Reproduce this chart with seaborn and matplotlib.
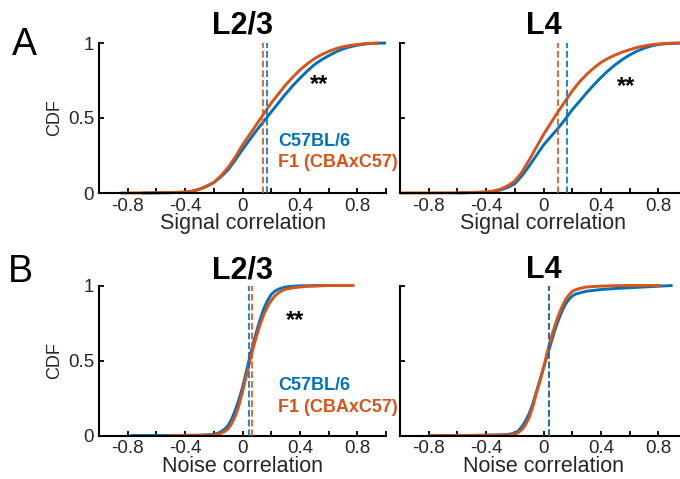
import numpy as np
import pandas as pd
import matplotlib
matplotlib.use("Agg")
import matplotlib.pyplot as plt
import seaborn as sns

# ---------------- data ----------------
strains = ["C57BL/6", "F1 (CBAxC57)"]
palette = {"C57BL/6": "#0072BD", "F1 (CBAxC57)": "#D95319"}

# Signal correlation, L2/3
sig23_c57_x = [-0.70, -0.5, -0.4, -0.35, -0.3, -0.25, -0.2, -0.15, -0.1, -0.05, 0.0, 0.05, 0.1, 0.15, 0.2, 0.25,
               0.3, 0.35, 0.4, 0.45, 0.5, 0.55, 0.6, 0.65, 0.7, 0.75, 0.8, 0.85, 0.9, 0.95, 1.0]
sig23_c57_y = [0.0, 0.002, 0.006, 0.012, 0.025, 0.045, 0.07, 0.108, 0.155, 0.22, 0.29, 0.355, 0.42, 0.48, 0.54, 0.60,
               0.66, 0.715, 0.765, 0.812, 0.855, 0.888, 0.915, 0.94, 0.96, 0.975, 0.985, 0.993, 0.997, 0.999, 1.0]
sig23_f1_x = [-0.85, -0.6, -0.4, -0.35, -0.3, -0.25, -0.2, -0.15, -0.1, -0.05, 0.0, 0.05, 0.1, 0.15, 0.2, 0.25,
              0.3, 0.35, 0.4, 0.45, 0.5, 0.55, 0.6, 0.65, 0.7, 0.75, 0.8, 0.85, 0.9, 0.95]
sig23_f1_y = [0.0, 0.001, 0.006, 0.012, 0.025, 0.045, 0.07, 0.115, 0.17, 0.24, 0.32, 0.39, 0.46, 0.53, 0.60, 0.66,
              0.72, 0.772, 0.82, 0.86, 0.895, 0.922, 0.944, 0.962, 0.975, 0.984, 0.99, 0.995, 0.998, 1.0]

# Signal correlation, L4
sig4_c57_x = [-0.6, -0.4, -0.35, -0.3, -0.25, -0.2, -0.15, -0.1, -0.05, 0.0, 0.05, 0.1, 0.15, 0.2, 0.25, 0.3,
              0.35, 0.4, 0.45, 0.5, 0.55, 0.6, 0.65, 0.7, 0.75, 0.8, 0.85, 0.9, 1.0]
sig4_c57_y = [0.0, 0.006, 0.011, 0.02, 0.037, 0.062, 0.115, 0.18, 0.25, 0.32, 0.375, 0.43, 0.49, 0.555, 0.61, 0.667,
              0.72, 0.77, 0.815, 0.855, 0.89, 0.92, 0.945, 0.965, 0.98, 0.99, 0.995, 0.998, 1.0]
sig4_f1_x = [-1.0, -0.6, -0.4, -0.35, -0.3, -0.25, -0.2, -0.15, -0.1, -0.05, 0.0, 0.05, 0.1, 0.15, 0.2, 0.25,
             0.3, 0.35, 0.4, 0.45, 0.5, 0.55, 0.6, 0.65, 0.7, 0.75, 0.8, 0.85, 0.9, 1.0]
sig4_f1_y = [0.0, 0.001, 0.006, 0.013, 0.025, 0.048, 0.08, 0.14, 0.22, 0.305, 0.39, 0.465, 0.54, 0.61, 0.68, 0.74,
             0.79, 0.833, 0.87, 0.898, 0.92, 0.94, 0.955, 0.97, 0.98, 0.988, 0.993, 0.997, 0.999, 1.0]

# Noise correlation, L2/3
noi23_c57_x = [-0.78, -0.5, -0.3, -0.2, -0.175, -0.15, -0.125, -0.1, -0.075, -0.05, -0.025, 0.0, 0.025, 0.05,
               0.075, 0.1, 0.125, 0.15, 0.175, 0.2, 0.225, 0.25, 0.275, 0.3, 0.35, 0.4, 0.6]
noi23_c57_y = [0.0, 0.0, 0.002, 0.007, 0.014, 0.025, 0.042, 0.067, 0.11, 0.17, 0.24, 0.32, 0.42, 0.52,
               0.615, 0.70, 0.78, 0.85, 0.90, 0.94, 0.962, 0.975, 0.984, 0.99, 0.995, 0.998, 1.0]
noi23_f1_x = [-0.52, -0.3, -0.2, -0.175, -0.15, -0.125, -0.1, -0.075, -0.05, -0.025, 0.0, 0.025, 0.05, 0.075,
              0.1, 0.125, 0.15, 0.175, 0.2, 0.225, 0.25, 0.275, 0.3, 0.35, 0.4, 0.45, 0.5, 0.6, 0.78]
noi23_f1_y = [0.0, 0.001, 0.003, 0.008, 0.015, 0.027, 0.045, 0.08, 0.13, 0.20, 0.29, 0.39, 0.49, 0.585,
              0.67, 0.745, 0.81, 0.86, 0.90, 0.93, 0.95, 0.965, 0.975, 0.984, 0.99, 0.994, 0.996, 1.0, 1.0]

# Noise correlation, L4
noi4_c57_x = [-0.55, -0.3, -0.25, -0.2, -0.175, -0.15, -0.125, -0.1, -0.075, -0.05, -0.025, 0.0, 0.025, 0.05,
              0.075, 0.1, 0.125, 0.15, 0.175, 0.2, 0.225, 0.25, 0.3, 0.4, 0.5, 0.6, 0.7, 0.8, 0.9]
noi4_c57_y = [0.0, 0.004, 0.007, 0.015, 0.032, 0.06, 0.098, 0.145, 0.21, 0.29, 0.37, 0.45, 0.53, 0.61,
              0.69, 0.76, 0.82, 0.87, 0.905, 0.93, 0.943, 0.95, 0.962, 0.973, 0.98, 0.985, 0.99, 0.995, 1.0]
noi4_f1_x = [-0.8, -0.4, -0.25, -0.2, -0.175, -0.15, -0.125, -0.1, -0.075, -0.05, -0.025, 0.0, 0.025, 0.05,
             0.075, 0.1, 0.125, 0.15, 0.175, 0.2, 0.225, 0.25, 0.3, 0.4, 0.5, 0.6, 0.82]
noi4_f1_y = [0.0, 0.001, 0.003, 0.008, 0.02, 0.04, 0.072, 0.12, 0.19, 0.28, 0.36, 0.45, 0.55, 0.64,
             0.72, 0.79, 0.85, 0.90, 0.935, 0.96, 0.972, 0.98, 0.99, 0.996, 0.999, 1.0, 1.0]

# medians (dashed lines): [C57, F1]
med_sig23 = [0.17, 0.14]
med_sig4 = [0.165, 0.10]
med_noi23 = [0.042, 0.064]
med_noi4 = [0.035, 0.035]

titles = ["L2/3", "L4", "L2/3", "L4"]
xlabels = ["Signal correlation", "Signal correlation", "Noise correlation", "Noise correlation"]
xtick_major = [-0.8, -0.4, 0, 0.4, 0.8]
xtick_labels = ["-0.8", "-0.4", "0", "0.4", "0.8"]
xtick_minor = [-1.0, -0.6, -0.2, 0.2, 0.6, 1.0]
ytick_vals = [0, 0.5, 1]
ytick_labels = ["0", "0.5", "1"]

# ---------------- style ----------------
sns.set_style("ticks")
plt.rcParams["font.family"] = ["Liberation Sans", "DejaVu Sans"]
TXT = "#262626"


def make_df(cx, cy, fx, fy):
    d1 = pd.DataFrame({"value": cx, "cdf": cy, "strain": strains[0]})
    d2 = pd.DataFrame({"value": fx, "cdf": fy, "strain": strains[1]})
    return pd.concat([d1, d2], ignore_index=True)


panels = [
    make_df(sig23_c57_x, sig23_c57_y, sig23_f1_x, sig23_f1_y),
    make_df(sig4_c57_x, sig4_c57_y, sig4_f1_x, sig4_f1_y),
    make_df(noi23_c57_x, noi23_c57_y, noi23_f1_x, noi23_f1_y),
    make_df(noi4_c57_x, noi4_c57_y, noi4_f1_x, noi4_f1_y),
]
medians = [med_sig23, med_sig4, med_noi23, med_noi4]

W, H = 680, 479
fig = plt.figure(figsize=(W / 100, H / 100), dpi=100)

rects = [
    [99 / W, 1 - 193 / H, 287 / W, 150 / H],
    [400 / W, 1 - 193 / H, 287 / W, 150 / H],
    [99 / W, 1 - 435.5 / H, 287 / W, 150 / H],
    [400 / W, 1 - 435.5 / H, 287 / W, 150 / H],
]
title_pads = [6.5, 6.5, 5, 5]

axes = []
for i, (rect, df) in enumerate(zip(rects, panels)):
    ax = fig.add_axes(rect)
    axes.append(ax)
    sns.lineplot(data=df, x="value", y="cdf", hue="strain", hue_order=strains,
                 palette=palette, sort=False, estimator=None, units="strain",
                 legend=False, linewidth=2.1, ax=ax)
    for ln in ax.lines:
        ln.set_clip_on(False)
        ln.set_solid_capstyle("butt")
        ln.set_solid_joinstyle("round")
    # dashed median lines: F1 then C57 on top
    ax.axvline(medians[i][1], color=palette[strains[1]], lw=1.2, ls=(0, (4, 1.8)), zorder=3)
    ax.axvline(medians[i][0], color=palette[strains[0]], lw=1.2, ls=(0, (4, 1.8)), zorder=3)

    ax.set_xlim(-1, 1)
    ax.set_ylim(0, 1)
    ax.set_xticks(xtick_major)
    ax.set_xticklabels(xtick_labels)
    ax.set_xticks(xtick_minor, minor=True)
    ax.set_yticks(ytick_vals)
    ax.tick_params(axis="both", which="both", direction="in", length=3.5, width=1.3,
                   color="black", labelcolor=TXT, labelsize=13.5, pad=3.5)
    for s in ["top", "right"]:
        ax.spines[s].set_visible(False)
    for s in ["left", "bottom"]:
        ax.spines[s].set_linewidth(1.5)
        ax.spines[s].set_color("black")
    ax.set_xlabel(xlabels[i], fontsize=15.5, color=TXT)
    ax.xaxis.set_label_coords(0.5, -0.135)
    if i % 2 == 0:
        ax.set_yticklabels(ytick_labels)
        ax.set_ylabel("CDF", fontsize=13, color=TXT)
        ax.yaxis.set_label_coords(-0.125, 0.5)
    else:
        ax.set_yticklabels([])
        ax.set_ylabel("")
    ax.set_title(titles[i], fontsize=22, fontweight="bold", color="black", pad=title_pads[i])
    ax.patch.set_alpha(0)

# legend-like labels
for ax, ys in [(axes[0], (0.342, 0.205)), (axes[2], (0.33, 0.19))]:
    ax.text(0.25, ys[0], strains[0], color=palette[strains[0]], fontsize=13,
            fontweight="bold", ha="left", va="center")
    ax.text(0.25, ys[1], strains[1], color=palette[strains[1]], fontsize=13,
            fontweight="bold", ha="left", va="center")

# significance stars
for ax, (sx, sy) in [(axes[0], (0.535, 0.68)), (axes[1], (0.574, 0.665)), (axes[2], (0.365, 0.72))]:
    ax.text(sx, sy, "**", fontsize=17, fontweight="bold", color="black",
            ha="center", va="baseline")

# panel letters
fig.text(12 / W, 1 - 55 / H, "A", fontsize=27, color="black", ha="left", va="baseline")
fig.text(8 / W, 1 - 282 / H, "B", fontsize=27, color="black", ha="left", va="baseline")

fig.savefig("out.png", dpi=100)
